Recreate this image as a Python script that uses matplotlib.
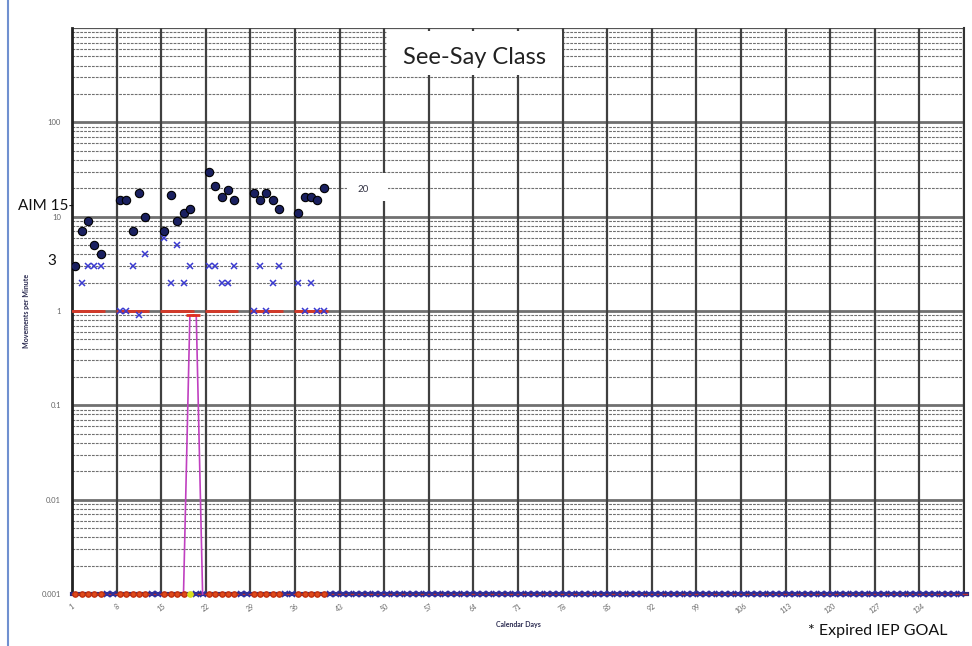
import numpy as np
import matplotlib
matplotlib.use('Agg')
import matplotlib.pyplot as plt
from matplotlib.patches import Rectangle
from matplotlib.lines import Line2D

plt.rcParams['font.family'] = ['Lato', 'DejaVu Sans']

# corrects (filled dots), errors (x), record floor (red) - calendar days
correct_days = [1, 2, 3, 4, 5, 8, 9, 10, 11, 12, 15, 16, 17, 18, 19,
                22, 23, 24, 25, 26, 29, 30, 31, 32, 33, 36, 37, 38, 39, 40]
corrects = [3, 7, 9, 5, 4, 15, 15, 7, 18, 10, 7, 17, 9, 11, 12,
            30, 21, 16, 19, 15, 18, 15, 18, 15, 12, 11, 16, 16, 15, 20]

error_days = [1, 2, 3, 4, 5, 8, 9, 10, 11, 12, 15, 16, 17, 18, 19,
              22, 23, 24, 25, 26, 29, 30, 31, 32, 33, 36, 37, 38, 39, 40]
errors = [3, 2, 3, 3, 3, 1, 1, 3, 0.9, 4, 6, 2, 5, 2, 3,
          3, 3, 2, 2, 3, 1, 3, 1, 2, 3, 2, 1, 2, 1, 1]

floor_weeks = [[1, 5], [8, 12], [15, 19], [22, 26], [29, 33], [36, 40]]
floor_value = 1

magenta_days = [18, 19, 20, 21]
magenta_vals = [0.001, 0.9, 0.9, 0.001]

zero_value = 0.001
total_days = 140
week_labels = [str(d) for d in range(1, 135, 7)]

fig = plt.figure(figsize=(9.72, 6.46), dpi=100)
W, H = 972, 646
ax = fig.add_axes([72 / W, 1 - 594 / H, 892 / W, 566 / H])
ax.set_yscale('log')
ax.set_ylim(0.001, 1000)
ax.set_xlim(0.5, total_days + 0.5)

# horizontal grid
for dec in range(-3, 3):
    base = 10.0 ** dec
    ax.axhline(base, color='#707070', lw=2.0, zorder=1)
    for m in range(2, 10):
        ax.axhline(base * m, color='#707070', lw=0.8, ls=(0, (2.5, 1)), zorder=1)
ax.axhline(1000, color='#555555', lw=1.6, zorder=1)

# weekly vertical lines
week_lines = np.arange(0.5, total_days + 1, 7)
for xv in week_lines:
    ax.axvline(xv, color='#404040', lw=1.6, zorder=1.5)

# zero row at the floor of the chart
weekday_set = set(correct_days)
all_days = np.arange(1, total_days + 1)
other_days = [d for d in all_days if d not in weekday_set]
ax.plot([0.5, total_days + 0.9], [zero_value] * 2, color='#2a2a80', lw=3,
        clip_on=False, zorder=3)
ax.plot([0.5, total_days + 0.9], [zero_value] * 2, color='#c03030', lw=1,
        clip_on=False, zorder=4)
ax.plot(other_days, [zero_value] * len(other_days), ls='none', marker='x',
        ms=4, mew=1.2, color='#3030a0', clip_on=False, zorder=4)
zero_red = [d for d in correct_days if d != 19]
ax.plot(zero_red, [zero_value] * len(zero_red), ls='none', marker='o', ms=3.8,
        color='#e04a1a', mec='#c03010', clip_on=False, zorder=5)
ax.plot([19], [zero_value], ls='none', marker='o', ms=3.8, color='#d8e020',
        clip_on=False, zorder=5)

# magenta trace
ax.plot(magenta_days, magenta_vals, color='#c040c0', lw=1.2, zorder=4,
        clip_on=False)
ax.plot(magenta_days[1:3], magenta_vals[1:3], ls='none', marker='_', ms=6,
        mew=2, color='#e03020', zorder=5)

# record floor
for start, end in floor_weeks:
    days = list(range(start, end + 1))
    ax.plot(days, [floor_value] * len(days), color='#d03a2a', lw=2.0,
            marker='_', ms=6, mew=2, zorder=4)

# errors and corrects
ax.plot(error_days, errors, ls='none', marker='x', ms=4.5, mew=1.1,
        color='#3a3ad0', zorder=6)
ax.plot(correct_days, corrects, ls='none', marker='o', ms=6,
        color='#1a2060', mec='#000000', mew=0.8, zorder=7)

# axes styling
for s in ax.spines.values():
    s.set_visible(False)
ax.plot([0, 0], [0, 1], transform=ax.transAxes, color='#222222', lw=2,
        clip_on=False, zorder=2)
ax.plot([1, 1], [0, 1], transform=ax.transAxes, color='#333333', lw=1.5,
        clip_on=False, zorder=2)

ax.set_yticks([0.001, 0.01, 0.1, 1, 10, 100])
ax.set_yticklabels(['0.001', '0.01', '0.1', '1', '10', '100'])
ax.yaxis.set_minor_locator(matplotlib.ticker.NullLocator())
ax.tick_params(axis='y', length=0, labelsize=5.5, labelcolor='#666666', pad=8)
ax.set_xticks(week_lines[:len(week_labels)])
ax.set_xticklabels(week_labels, rotation=35, fontsize=5, color='#666666')
ax.tick_params(axis='x', length=0, pad=6)

ax.set_ylabel('Movements per Minute', fontsize=5, fontweight='bold',
              color='#2a2a50', labelpad=4)
ax.yaxis.set_label_coords(-42 / 892, 0.5)
ax.set_xlabel('Calendar Days', fontsize=5, fontweight='bold',
              color='#2a2a50', labelpad=4)

# overlay boxes and labels
fig.add_artist(Rectangle((387 / W, 1 - 75 / H), 175 / W, 44 / H,
                         transform=fig.transFigure, facecolor='white',
                         edgecolor='none', zorder=10))
fig.text(474 / W, 1 - 57 / H, 'See-Say Class', fontsize=17, ha='center',
         va='center', color='#222222', zorder=11)

fig.add_artist(Rectangle((347 / W, 1 - 201 / H), 41 / W, 28 / H,
                         transform=fig.transFigure, facecolor='white',
                         edgecolor='none', zorder=10))
fig.text(363 / W, 1 - 189 / H, '20', fontsize=7, ha='center', va='center',
         color='#333344', zorder=11)

fig.text(18 / W, 1 - 206 / H, 'AIM 15-', fontsize=11, ha='left',
         va='center', color='#111111', zorder=11)
fig.text(52 / W, 1 - 261 / H, '3', fontsize=11, ha='center', va='center',
         color='#111111', zorder=11)
fig.text(808 / W, 1 - 631 / H, '* Expired IEP GOAL', fontsize=11.5,
         ha='left', va='center', color='#111111', zorder=11)

# left border line of the screenshot
fig.add_artist(Line2D([8 / W, 8 / W], [0, 1], transform=fig.transFigure,
                      color='#7090d0', lw=1.5))

fig.savefig('out.png', dpi=100)
